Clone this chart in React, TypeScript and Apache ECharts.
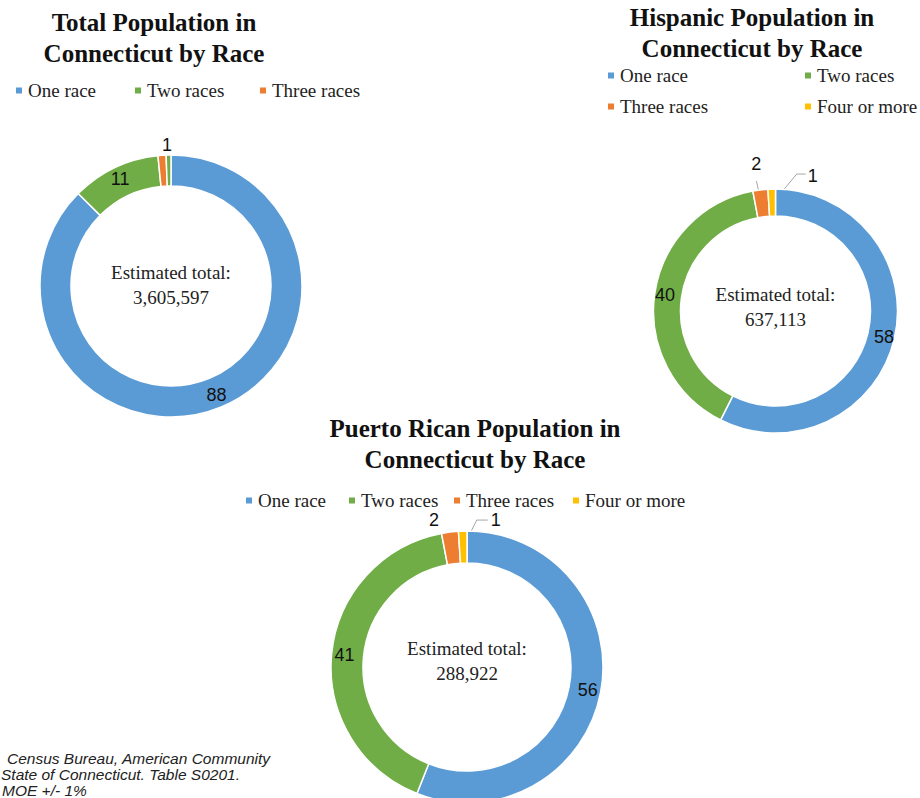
import React, { useEffect, useRef } from 'react';
import * as echarts from 'echarts';

// ---- data ----
const categories = ['One race', 'Two races', 'Three races', 'Four or more'];
const totalValues = [88, 11, 1, 0.6];
const hispanicValues = [58, 40, 2, 1];
const puertoRicanValues = [56, 41, 2, 1];
const totalsText = ['3,605,597', '637,113', '288,922'];
const titleTexts = [
  'Total Population in\nConnecticut by Race',
  'Hispanic Population in\nConnecticut by Race',
  'Puerto Rican Population in\nConnecticut by Race',
];
const sourceLines = [
  'Census Bureau, American Community',
  'State of Connecticut. Table S0201.',
  'MOE +/- 1%',
];

const COLORS = ['#5B9BD5', '#70AD47', '#ED7D31', '#FFC000'];
const SERIF = '"Liberation Serif", "DejaVu Serif", serif';
const SANS = '"Liberation Sans", Arial, sans-serif';

type Pt = [number, number];

function edgePoint(center: Pt, r: number, values: number[], idx: number): Pt {
  const sum = values.reduce((a, b) => a + b, 0);
  let before = 0;
  for (let i = 0; i < idx; i++) before += values[i];
  const frac = (before + values[idx] / 2) / sum;
  const ang = frac * 2 * Math.PI;
  return [center[0] + r * Math.sin(ang), center[1] - r * Math.cos(ang)];
}

export default function App() {
  const ref = useRef<HTMLDivElement>(null);

  useEffect(() => {
    if (!ref.current) return;
    const chart = echarts.init(ref.current, undefined, { renderer: 'svg' });

    const pies = [
      { values: totalValues, center: [171, 286] as Pt, radius: [100, 131], titleX: 154, titleTop: 7, textY: 285 },
      { values: hispanicValues, center: [775.5, 311] as Pt, radius: [95, 122], titleX: 752, titleTop: 2, textY: 307 },
      { values: puertoRicanValues, center: [467, 667] as Pt, radius: [104, 136], titleX: 475, titleTop: 413, textY: 661 },
    ];

    const legendPos: Pt[][] = [
      [[14, 81], [133, 81], [258, 81]],
      [[606, 66], [803, 66], [606, 97], [803, 97]],
      [[244, 491], [347, 491], [452, 491], [571, 491]],
    ];

    const legends: any[] = [];
    legendPos.forEach((row) => {
      row.forEach((p, i) => {
        legends.push({
          left: p[0],
          top: p[1],
          padding: 0,
          itemWidth: 8,
          itemHeight: 8,
          icon: 'rect',
          selectedMode: false,
          data: [{ name: categories[i], itemStyle: { color: COLORS[i] } }],
          textStyle: { fontFamily: SERIF, fontSize: 19, color: '#222' },
        });
      });
    });

    const labelStyle = { fontFamily: SANS, fontSize: 18, color: '#111' };

    const series: any[] = pies.map((p, si) => {
      const data = p.values.map((v, i) => {
        const item: any = {
          value: v,
          name: categories[i],
          itemStyle: { color: COLORS[i] },
        };
        if (si === 0 && i === 3) {
          item.itemStyle = { color: COLORS[1] };
          item.label = { show: false };
        } else if (i >= 2) {
          item.label = { position: 'outside' };
          item.labelLine = { show: si !== 0 };
        }
        return item;
      });
      return {
        type: 'pie',
        center: p.center,
        radius: p.radius,
        startAngle: 90,
        clockwise: true,
        avoidLabelOverlap: false,
        emphasis: { disabled: true },
        itemStyle: { borderColor: '#fff', borderWidth: 1.5 },
        label: { show: true, position: 'inside', formatter: '{c}', ...labelStyle },
        labelLine: { show: false, lineStyle: { color: '#a6a6a6', width: 1 } },
        labelLayout: (params: any) => {
          const idx = params.dataIndex;
          if (idx < 2) return {};
          const s = edgePoint(p.center, p.radius[1], p.values, idx);
          if (si === 0) {
            if (idx === 2) return { x: s[0] + 5, y: s[1] - 10, align: 'center', verticalAlign: 'middle' };
            return {};
          }
          if (si === 1) {
            if (idx === 2)
              return {
                x: s[0] - 4, y: s[1] - 26, align: 'center', verticalAlign: 'middle',
                labelLinePoints: [[s[0] + 1, s[1] + 13], [s[0] - 4, s[1] - 9], [s[0] - 4, s[1] - 9]],
              };
            return {
              x: s[0] + 36, y: s[1] - 13, align: 'left', verticalAlign: 'middle',
              labelLinePoints: [[s[0], s[1] + 15], [s[0] + 25, s[1] - 15], [s[0] + 34, s[1] - 15]],
            };
          }
          if (idx === 2)
            return {
              x: s[0] - 16, y: s[1] - 12, align: 'center', verticalAlign: 'middle',
              labelLinePoints: [[s[0] + 2, s[1] + 16], [s[0] - 8, s[1] + 1], [s[0] - 8, s[1] + 1]],
            };
          return {
            x: s[0] + 28, y: s[1] - 11, align: 'left', verticalAlign: 'middle',
            labelLinePoints: [[s[0], s[1] + 17], [s[0] + 14, s[1] - 11], [s[0] + 25, s[1] - 11]],
          };
        },
        data,
      };
    });

    const titles = pies.map((p, i) => ({
      text: titleTexts[i],
      left: p.titleX,
      top: p.titleTop,
      textAlign: 'center',
      padding: 0,
      textStyle: { fontFamily: SERIF, fontWeight: 'bold', fontSize: 25, lineHeight: 31, color: '#111' },
    }));

    const graphic: any[] = pies.map((p, i) => ({
      type: 'text',
      x: p.center[0],
      y: p.textY,
      silent: true,
      style: {
        text: 'Estimated total:\n' + totalsText[i],
        align: 'center',
        verticalAlign: 'middle',
        fontFamily: SERIF,
        fontSize: 19,
        lineHeight: 25,
        fill: '#222',
      },
    }));

    const srcLeft = [7, 1, 2];
    const srcY = [758, 774, 790];
    sourceLines.forEach((t, i) => {
      graphic.push({
        type: 'text',
        x: srcLeft[i],
        y: srcY[i],
        silent: true,
        style: {
          text: t,
          align: 'left',
          verticalAlign: 'middle',
          fontFamily: SANS,
          fontStyle: 'italic',
          fontSize: 15.5,
          fill: '#222',
        },
      });
    });

    chart.setOption({
      animation: false,
      backgroundColor: '#fff',
      color: COLORS,
      title: titles,
      legend: legends,
      series,
      graphic,
    });

    return () => chart.dispose();
  }, []);

  return (
    <div
      ref={ref}
      style={{ position: 'fixed', left: 0, top: 0, width: 920, height: 798, background: '#fff' }}
    />
  );
}
